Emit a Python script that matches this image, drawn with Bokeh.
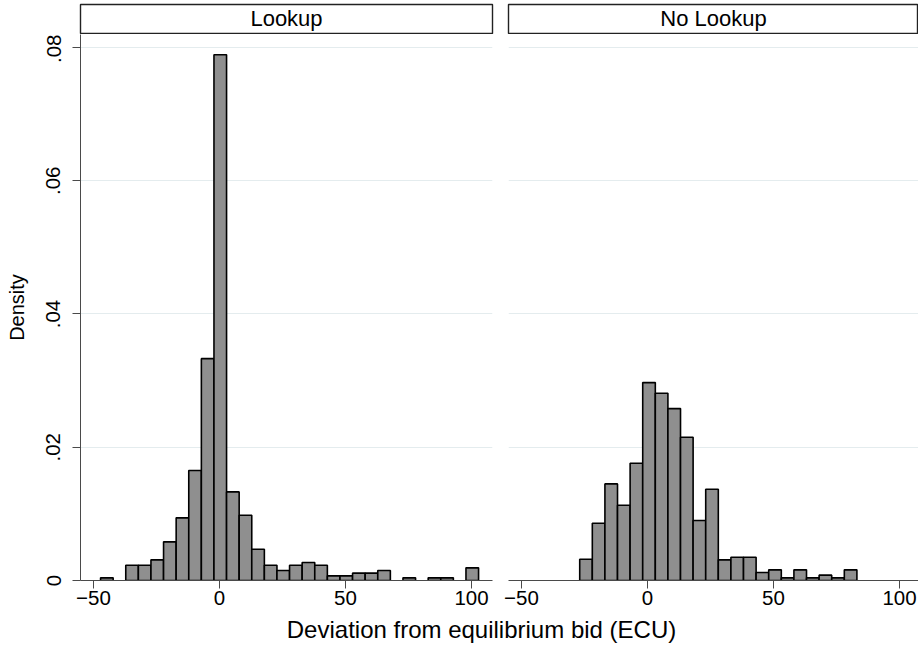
import numpy as np
from bokeh.plotting import figure
from bokeh.layouts import column, row
from bokeh.models import Range1d, FixedTicker, ColumnDataSource
from bokeh.core.properties import value
from bokeh.embed import file_html
from bokeh.resources import INLINE

# ---------------- data ----------------
panel_titles = ["Lookup", "No Lookup"]
x_title = "Deviation from equilibrium bid (ECU)"
y_title = "Density"
x_ticks = [-50, 0, 50, 100]
x_tick_labels = ["\u221250", "0", "50", "100"]
y_ticks = [0, 0.02, 0.04, 0.06, 0.08]
y_tick_labels = ["0", ".02", ".04", ".06", ".08"]

bin_width = 5.0
lookup_start = -47.2
lookup_density = [0.0004, 0.0, 0.0023, 0.0023, 0.0031, 0.0058, 0.0094, 0.0165,
                  0.0333, 0.0789, 0.0133, 0.0098, 0.0047, 0.0023, 0.0015, 0.0023,
                  0.0027, 0.0023, 0.0007, 0.0007, 0.0011, 0.0011, 0.0015, 0.0,
                  0.0004, 0.0, 0.0004, 0.0004, 0.0, 0.0019]
nolookup_start = -26.9
nolookup_density = [0.0032, 0.0086, 0.0145, 0.0113, 0.0176, 0.0297, 0.0281, 0.0258,
                    0.0215, 0.0090, 0.0137, 0.0031, 0.0035, 0.0035, 0.0012, 0.0016,
                    0.0004, 0.0016, 0.0004, 0.0008, 0.0004, 0.0016]

# ---------------- style ----------------
FONT = "Liberation Sans"
BAR_FILL = "#8f8f8f"
GRID = "#e4ecee"
AXIS = "#4a4a4a"
TICK_FS = "20.5px"
Y_MAX = 0.08195


def hist_source(start, dens):
    d = np.asarray(dens, dtype=float)
    left = start + bin_width * np.arange(len(d))
    keep = d > 0
    return ColumnDataSource(dict(left=left[keep], right=left[keep] + bin_width,
                                 top=d[keep], bottom=np.zeros(keep.sum())))


def make_panel(start, dens, x_range, width, mb_left, mb_right, with_yaxis):
    p = figure(width=width, height=581, x_range=x_range,
               y_range=Range1d(0, Y_MAX),
               output_backend="svg", toolbar_location=None,
               y_axis_location="left" if with_yaxis else None,
               min_border_left=mb_left, min_border_right=mb_right,
               min_border_top=0, min_border_bottom=35)
    p.outline_line_color = None
    p.background_fill_color = "white"
    p.border_fill_color = "white"
    p.xgrid.visible = False
    p.ygrid.ticker = FixedTicker(ticks=y_ticks[1:])
    p.ygrid.grid_line_color = GRID
    p.ygrid.grid_line_width = 1.2

    p.quad(left="left", right="right", top="top", bottom="bottom",
           source=hist_source(start, dens), fill_color=BAR_FILL,
           line_color="black", line_width=1.6)

    xa = p.xaxis[0]
    xa.ticker = FixedTicker(ticks=x_ticks)
    xa.major_label_overrides = {t: l for t, l in zip(x_ticks, x_tick_labels)}
    xa.minor_tick_line_color = None
    xa.major_tick_out = 8
    xa.major_tick_in = 0
    xa.major_label_standoff = 2
    xa.axis_line_color = AXIS
    xa.major_tick_line_color = AXIS
    xa.major_label_text_font = FONT
    xa.major_label_text_font_size = TICK_FS
    xa.major_label_text_color = "black"

    if with_yaxis:
        ya = p.yaxis[0]
        ya.ticker = FixedTicker(ticks=y_ticks)
        ya.major_label_overrides = {t: l for t, l in zip(y_ticks, y_tick_labels)}
        ya.minor_tick_line_color = None
        ya.major_tick_out = 8
        ya.major_tick_in = 0
        ya.major_label_standoff = 12
        ya.major_label_orientation = "vertical"
        ya.axis_line_color = AXIS
        ya.major_tick_line_color = AXIS
        ya.major_label_text_font = FONT
        ya.major_label_text_font_size = TICK_FS
        ya.major_label_text_color = "black"
        ya.axis_label = y_title
        ya.axis_label_text_font = FONT
        ya.axis_label_text_font_size = "20px"
        ya.axis_label_text_font_style = "normal"
        ya.axis_label_text_color = "black"
        ya.axis_label_standoff = 16
    return p


def make_strip(label, width, mb_left, mb_right):
    s = figure(width=width, height=34, x_range=Range1d(0, 1), y_range=Range1d(0, 30),
               output_backend="svg", toolbar_location=None,
               x_axis_location=None, y_axis_location=None,
               min_border_left=mb_left, min_border_right=mb_right,
               min_border_top=4, min_border_bottom=0)
    s.grid.visible = False
    s.outline_line_color = "#222222"
    s.outline_line_width = 1.4
    s.background_fill_color = "white"
    s.border_fill_color = "white"
    s.text(x=[0.5], y=[16.5], text=[label], text_align="center",
           text_baseline="middle", text_font=value(FONT),
           text_font_size="22px", text_color="black")
    return s


left_range = Range1d(-55.16, 108.33)
right_range = Range1d(-55.16, 107.54)

pL = make_panel(lookup_start, lookup_density, left_range, 500, 80, 8, True)
pR = make_panel(nolookup_start, nolookup_density, right_range, 418, 8, 0, False)
sL = make_strip(panel_titles[0], 500, 80, 8)
sR = make_strip(panel_titles[1], 418, 8, 0)

tfig = figure(width=918, height=38, x_range=Range1d(0, 918), y_range=Range1d(0, 38),
              output_backend="svg", toolbar_location=None,
              x_axis_location=None, y_axis_location=None,
              min_border=0)
tfig.grid.visible = False
tfig.outline_line_color = None
tfig.border_fill_color = "white"
tfig.text(x=[481], y=[24], text=[x_title], text_align="center",
          text_baseline="middle", text_font=value(FONT),
          text_font_size="24px", text_color="black")

layout = column(row(sL, sR, spacing=0), row(pL, pR, spacing=0), tfig, spacing=0)

open("out.html", "w").write(file_html(layout, INLINE, title="Histogram"))
